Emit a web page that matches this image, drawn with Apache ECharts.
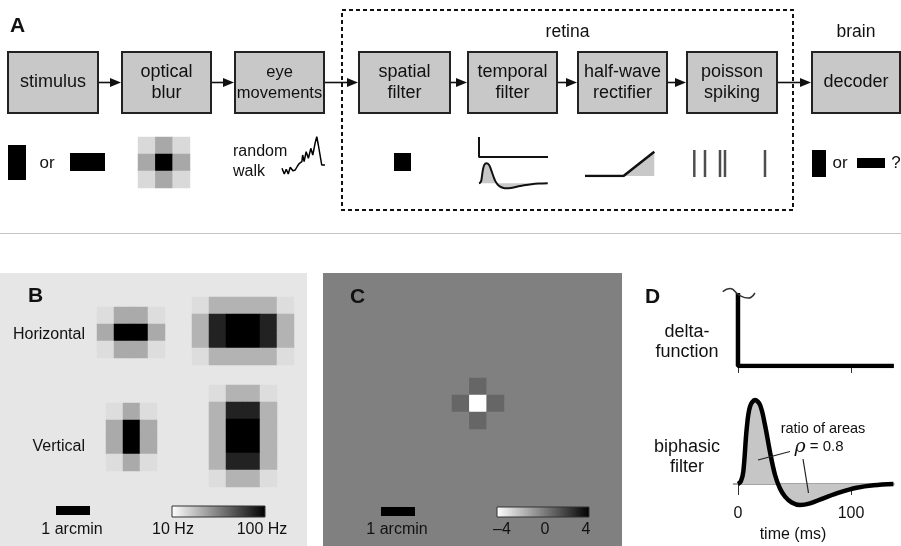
<!DOCTYPE html>
<html><head><meta charset="utf-8">
<script src="https://cdn.jsdelivr.net/npm/echarts@6/dist/echarts.min.js"></script>
<style>html,body{margin:0;padding:0;background:#fff}#c{width:901px;height:546px}</style>
</head><body><div id="c"></div><script>
// ================= DATA =================
const stageNames = ['stimulus','optical\nblur','eye\nmovements','spatial\nfilter','temporal\nfilter','half-wave\nrectifier','poisson\nspiking','decoder'];
const groupLabels = ['retina','brain'];
const panelLetters = ['A','B','C','D'];
// optical blur kernel (relative weight, 0 = white, 1 = black)
const blurKernel = [[0.15,0.34,0.15],[0.34,1,0.34],[0.15,0.34,0.15]];
// random walk (time step, eye position)
const walkTime = [0,2.3,4.3,6.3,8.3,11,13.3,15.6,17.6,20,20.8,22.3,24.3,26.6,29,31,33.3,35,36.6,38.3,40,43.3];
const walkPos  = [6.7,1,5.7,1,7.7,4.3,5,9,11.7,13.3,20,13.3,23.3,16.7,26.7,20,31.7,38.3,30,28.3,10,10];
// delta function (ms, value)
const deltaTime  = [0,0,138];
const deltaValue = [1,0,0];
const breakTime  = [-13.5,-7,1.2,9.1,15];
const breakValue = [1.02,1.06,0.97,0.93,1.0];
// biphasic temporal filter (ms, normalised response)
const biphasicTime  = [0,2.5,4.7,7.7,10.6,15,19.5,23.9,28.3,32.7,37,41.6,47.5,54.9,63.7,75.5,90,105,120,137.5];
const biphasicValue = [0,0.03,0.15,0.66,0.92,1.0,0.94,0.70,0.38,0.11,-0.05,-0.15,-0.22,-0.25,-0.23,-0.17,-0.10,-0.045,-0.015,0];
const timeTicks = [0,100];
// half-wave rectifier (input, output)
const rectifierInput  = [-1.25,0,1];
const rectifierOutput = [0,0,0.78];
// poisson spike times
const spikeTimes = [4.3,15,30,35,75];
// panel B firing rates (Hz), rows top->bottom
const horizSmall = [[22,40,40,22],[40,100,100,40],[22,40,40,22]];
const horizBig   = [[22,37,37,37,37,22],[37,88,100,100,88,37],[37,88,100,100,88,37],[22,37,37,37,37,22]];
const vertSmall  = [[22,40,22],[40,100,40],[40,100,40],[22,40,22]];
const vertBig    = [[22,37,37,22],[37,88,88,37],[37,100,100,37],[37,100,100,37],[37,88,88,37],[22,37,37,22]];
const rowLabels  = ['Horizontal','Vertical'];
const rateRange  = [10,100];
const rateTicks  = ['10 Hz','100 Hz'];
// panel C spatial filter weights
const spatialFilter = [[0,0.8,0],[0.8,-4,0.8],[0,0.8,0]];
const filterRange = [-4,4];
const filterTicks = ['\u20134','0','4'];
const scaleLabel = '1 arcmin';

// ================= LAYOUT / STYLE =================
const FONT = '"Liberation Sans", Arial, Helvetica, sans-serif';
const INK = '#111';
const BOX_FILL = '#c8c8c8';
const boxX = [8,122,235,359,468,578,687,812];
const boxW = [90,89,89,91,89,89,90,88];
const boxTop = 52, boxH = 61, boxMid = 82.5;

const grids = [], xAxes = [], yAxes = [], series = [];
function addGrid(box, xa, ya) {
  const gi = grids.length;
  grids.push(Object.assign({containLabel:false, show:false}, box));
  xAxes.push(Object.assign({gridIndex:gi, show:false}, xa));
  yAxes.push(Object.assign({gridIndex:gi, show:false}, ya));
  return gi;
}
function pairs(a, b) { return a.map((v,i)=>[v,b[i]]); }
function addHeat(box, matrix) {
  const rows = matrix.length, cols = matrix[0].length;
  const gi = addGrid(box,
    {type:'category', data: Array.from({length:cols},(_, i)=>i)},
    {type:'category', data: Array.from({length:rows},(_, i)=>i), inverse:true});
  const data = [];
  matrix.forEach((r,ri)=>r.forEach((v,ci)=>data.push([ci,ri,v])));
  series.push({type:'heatmap', xAxisIndex:gi, yAxisIndex:gi, data, z:3, itemStyle:{borderWidth:0}, emphasis:{disabled:true}, silent:true});
  return series.length-1;
}
function addLine(gi, data, style) {
  series.push(Object.assign({type:'line', xAxisIndex:gi, yAxisIndex:gi, data, symbol:'none', silent:true,
    lineStyle:{color:'#000', width:2}}, style));
  return series.length-1;
}

// panel backgrounds (B light grey, C mid grey)
addGrid({left:0, top:273, width:307, height:273, show:true, backgroundColor:'#e6e6e6', borderWidth:0, z:0},
  {type:'value', min:0, max:1}, {type:'value', min:0, max:1});
addGrid({left:323, top:273, width:299, height:273, show:true, backgroundColor:'#808080', borderWidth:0, z:0},
  {type:'value', min:0, max:1}, {type:'value', min:0, max:1});

// ---- panel A icons ----
const blurIdx = addHeat({left:138, top:137, width:52, height:51}, blurKernel);
let g = addGrid({left:282, top:135, width:43, height:40}, {type:'value', min:0, max:43.3}, {type:'value', min:0, max:40});
addLine(g, pairs(walkTime, walkPos), {lineStyle:{color:'#000', width:1.5}});
g = addGrid({left:479, top:137, width:69, height:20}, {type:'value', min:0, max:138}, {type:'value', min:0, max:1});
addLine(g, pairs(deltaTime, deltaValue), {lineStyle:{color:'#111', width:2}});
g = addGrid({left:479, top:162.3, width:69, height:27}, {type:'value', min:0, max:138}, {type:'value', min:-0.3, max:1.05});
addLine(g, pairs(biphasicTime, biphasicValue), {smooth:0.35, lineStyle:{color:'#111', width:2}, areaStyle:{color:'#c8c8c8', opacity:1}});
g = addGrid({left:585, top:151.7, width:69.3, height:24.3}, {type:'value', min:-1.25, max:1}, {type:'value', min:0, max:0.78});
addLine(g, pairs(rectifierInput, rectifierOutput), {lineStyle:{color:'#111', width:2.5}, areaStyle:{color:'#c8c8c8', opacity:1}});
g = addGrid({left:690, top:150, width:80, height:27}, {type:'value', min:0, max:80}, {type:'value', min:0, max:1});
series.push({type:'scatter', xAxisIndex:g, yAxisIndex:g, data: spikeTimes.map(t=>[t,0.5]), symbol:'rect', symbolSize:[2.5,27], itemStyle:{color:'#222'}, silent:true});

// ---- panel B ----
const bIdx = [
  addHeat({left:97, top:307, width:68, height:51}, horizSmall),
  addHeat({left:192, top:297, width:102, height:68}, horizBig),
  addHeat({left:106, top:403, width:51, height:68}, vertSmall),
  addHeat({left:209, top:385, width:68, height:102}, vertBig)
];
// ---- panel C ----
const cIdx = addHeat({left:452, top:378, width:52, height:51}, spatialFilter);

// ---- panel D ----
g = addGrid({left:719.9, top:285.7, width:174, height:80.3},
  {type:'value', min:-16, max:138, show:true, axisLine:{show:false},
   axisTick:{show:true, customValues:timeTicks, length:7, lineStyle:{color:'#333', width:1}},
   axisLabel:{show:false}, splitLine:{show:false}},
  {type:'value', min:0, max:1.1});
addLine(g, pairs(deltaTime, deltaValue), {lineStyle:{color:'#000', width:4.5}, z:3});
addLine(g, pairs(breakTime, breakValue), {smooth:true, lineStyle:{color:'#333', width:1.5}});
g = addGrid({left:733.5, top:395.8, width:160.5, height:113.4},
  {type:'value', min:-4, max:138, show:true, axisLine:{show:true, onZero:true, lineStyle:{color:'#888', width:1.5}},
   axisTick:{show:true, customValues:timeTicks, length:11, lineStyle:{color:'#333', width:1}},
   axisLabel:{show:true, customValues:timeTicks, fontSize:16, fontFamily:FONT, color:INK, margin:-4},
   splitLine:{show:false}},
  {type:'value', min:-0.3, max:1.05});
addLine(g, pairs(biphasicTime, biphasicValue), {smooth:0.35, lineStyle:{color:'#000', width:4.5}, areaStyle:{color:'#c6c6c6', opacity:1}});

// ================= GRAPHIC =================
const els = [];
function txt(x, y, text, size, align, extra) {
  const font = (extra && extra.bold ? 'bold ' : '') + size + 'px ' + FONT;
  els.push({type:'text', x, y, z:20, silent:true, style:{text, font, fill:INK,
    align: align||'center', textAlign: align||'center', verticalAlign:'middle', textVerticalAlign:'middle',
    lineHeight: (extra && extra.lh) || size*1.2}});
}
function rect(x, y, w, h, style, z) { els.push({type:'rect', z: z||5, silent:true, shape:{x, y, width:w, height:h}, style}); }
function line(x1, y1, x2, y2, stroke, w, z) { els.push({type:'line', z: z||6, silent:true, shape:{x1,y1,x2,y2}, style:{stroke, lineWidth:w}}); }

// separator
line(0, 233.5, 901, 233.5, '#c4c4c4', 1, 1);

// panel A
txt(10, 26, panelLetters[0], 21, 'left', {bold:true});
rect(342, 10, 451, 200, {fill:'none', stroke:'#111', lineWidth:2, lineDash:[4,3]}, 4);
txt(567.5, 32, groupLabels[0], 17.5);
txt(856, 32, groupLabels[1], 17.5);
stageNames.forEach((name, i) => {
  rect(boxX[i], boxTop, boxW[i], boxH, {fill:BOX_FILL, stroke:'#222', lineWidth:2});
  const size = name.indexOf('movements') >= 0 ? 16.5 : 18;
  txt(boxX[i] + boxW[i]/2, boxMid, name, size, 'center', {lh:21});
  if (i < stageNames.length - 1) {
    const x1 = boxX[i] + boxW[i] + 1, x2 = boxX[i+1] - 1;
    line(x1, boxMid, x2 - 8, boxMid, '#111', 1.6);
    els.push({type:'polygon', z:6, silent:true, shape:{points:[[x2, boxMid],[x2-11, boxMid-4.5],[x2-11, boxMid+4.5]]}, style:{fill:'#111'}});
  }
});
// stimulus icons
rect(8, 145, 18, 35, {fill:'#000'});
txt(47, 163, 'or', 17);
rect(70, 153, 35, 18, {fill:'#000'});
txt(233, 152, 'random', 16, 'left');
txt(233, 172, 'walk', 16, 'left');
rect(394, 153, 17, 18, {fill:'#000'});
rect(812, 150, 14, 27, {fill:'#000'});
txt(840, 163, 'or', 17);
rect(857, 158, 28, 10, {fill:'#000'});
txt(896, 163, '?', 17);

// panel B
txt(28, 296, panelLetters[1], 21, 'left', {bold:true});
txt(85, 335, rowLabels[0], 16, 'right');
txt(85, 447, rowLabels[1], 16, 'right');
rect(56, 506, 34, 9, {fill:'#000'});
txt(72, 530, scaleLabel, 16);
const grayGrad = {type:'linear', x:0, y:0, x2:1, y2:0, colorStops:[{offset:0, color:'#ffffff'},{offset:1, color:'#000000'}]};
rect(172, 506, 93, 11, {fill:grayGrad, stroke:'#333', lineWidth:1});
txt(173, 530, rateTicks[0], 16);
txt(262, 530, rateTicks[1], 16);

// panel C
txt(350, 297, panelLetters[2], 21, 'left', {bold:true});
rect(381, 507, 34, 9, {fill:'#000'});
txt(397, 530, scaleLabel, 16);
rect(497, 507, 92, 10, {fill:grayGrad, stroke:'#333', lineWidth:1});
txt(502, 530, filterTicks[0], 16);
txt(545, 530, filterTicks[1], 16);
txt(586, 530, filterTicks[2], 16);

// panel D
txt(645, 297, panelLetters[3], 21, 'left', {bold:true});
txt(687, 332, 'delta-', 18);
txt(687, 352, 'function', 18);
txt(687, 447, 'biphasic', 18);
txt(687, 467, 'filter', 18);
txt(823, 429, 'ratio of areas', 14.5);
els.push({type:'text', x:819, y:447, z:20, silent:true, style:{
  text:'{r|\u03c1}{n| = 0.8}', align:'center', textAlign:'center', verticalAlign:'middle', textVerticalAlign:'middle',
  rich:{r:{font:'italic 19px "DejaVu Serif", serif', fill:INK}, n:{font:'15px ' + FONT, fill:INK}}}});
line(758, 460, 790, 451.5, '#222', 1.2, 21);
line(803, 459, 808.5, 493, '#222', 1.2, 21);
txt(793, 535, 'time (ms)', 16);

// ================= CHART =================
const chart = echarts.init(document.getElementById('c'), null, {renderer:'canvas'});
chart.setOption({
  animation:false,
  backgroundColor:'#ffffff',
  grid: grids, xAxis: xAxes, yAxis: yAxes,
  visualMap: [
    {type:'continuous', show:false, seriesIndex:[blurIdx], min:0, max:1, inRange:{color:['#ffffff','#000000']}},
    {type:'continuous', show:false, seriesIndex:bIdx, min:rateRange[0], max:rateRange[1], inRange:{color:['#ffffff','#000000']}},
    {type:'continuous', show:false, seriesIndex:[cIdx], min:filterRange[0], max:filterRange[1], inRange:{color:['#ffffff','#000000']}}
  ],
  series: series,
  graphic: {elements: els}
});
</script></body></html>
